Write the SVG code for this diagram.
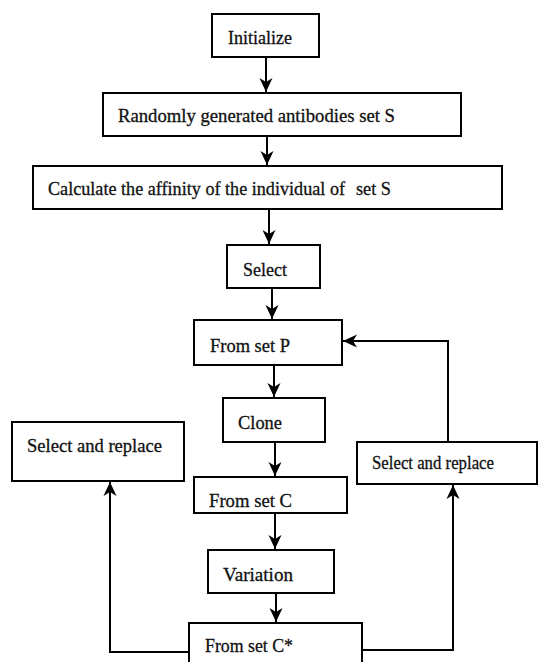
<svg xmlns="http://www.w3.org/2000/svg" width="538" height="662" viewBox="0 0 538 662">
<style>
  .box { fill: #fff; stroke: #000; stroke-width: 2; }
  .t { font-family: "Liberation Serif", "Times New Roman", serif; font-size: 19px; fill: #111; stroke: #111; stroke-width: 0.3; }
  .c { fill: none; stroke: #000; stroke-width: 2; }
</style>
<defs>
  <marker id="ah" markerUnits="userSpaceOnUse" markerWidth="16" markerHeight="14" refX="14" refY="7" orient="auto">
    <path d="M0,0.5 L14,7 L0,13.5 L4,7 z" fill="#000"/>
  </marker>
</defs>
<rect width="538" height="662" fill="#fff"/>

<g id="connectors">
  <line class="c" x1="266" y1="57" x2="266" y2="92" marker-end="url(#ah)"/>
  <line class="c" x1="267" y1="136" x2="267" y2="165" marker-end="url(#ah)"/>
  <line class="c" x1="269" y1="209" x2="269" y2="244" marker-end="url(#ah)"/>
  <line class="c" x1="272" y1="288" x2="272" y2="319" marker-end="url(#ah)"/>
  <line class="c" x1="274" y1="365" x2="274" y2="397" marker-end="url(#ah)"/>
  <line class="c" x1="275" y1="442" x2="275" y2="476" marker-end="url(#ah)"/>
  <line class="c" x1="275" y1="513" x2="275" y2="549" marker-end="url(#ah)"/>
  <line class="c" x1="276" y1="593" x2="276" y2="622" marker-end="url(#ah)"/>
  <polyline class="c" points="189,652 110,652 110,482" marker-end="url(#ah)"/>
  <polyline class="c" points="362,650 453,650 453,485" marker-end="url(#ah)"/>
  <polyline class="c" points="448,442 448,341 343,341" marker-end="url(#ah)"/>
</g>

<g id="initialize">
  <rect class="box" x="212" y="14" width="107" height="43"/>
  <text class="t" x="228" y="44" textLength="64" lengthAdjust="spacingAndGlyphs">Initialize</text>
</g>
<g id="random">
  <rect class="box" x="103" y="93" width="358" height="43"/>
  <text class="t" x="118" y="122" textLength="277" lengthAdjust="spacingAndGlyphs">Randomly generated antibodies set S</text>
</g>
<g id="calculate">
  <rect class="box" x="33" y="166" width="469" height="43"/>
  <text class="t" x="48" y="195" textLength="297" lengthAdjust="spacingAndGlyphs">Calculate the affinity of the individual of</text>
  <text class="t" x="356" y="195" font-size="17" textLength="35" lengthAdjust="spacingAndGlyphs">set S</text>
</g>
<g id="select">
  <rect class="box" x="227" y="245" width="93" height="43"/>
  <text class="t" x="243" y="276" textLength="44" lengthAdjust="spacingAndGlyphs">Select</text>
</g>
<g id="setP">
  <rect class="box" x="194" y="320" width="148" height="45"/>
  <text class="t" x="210" y="352" textLength="80" lengthAdjust="spacingAndGlyphs">From set P</text>
</g>
<g id="clone">
  <rect class="box" x="223" y="398" width="102" height="44"/>
  <text class="t" x="238" y="429" textLength="44" lengthAdjust="spacingAndGlyphs">Clone</text>
</g>
<g id="replaceLeft">
  <rect class="box" x="12" y="422" width="172" height="59"/>
  <text class="t" x="27" y="452" textLength="135" lengthAdjust="spacingAndGlyphs">Select and replace</text>
</g>
<g id="replaceRight">
  <rect class="box" x="357" y="442" width="180" height="42"/>
  <text class="t" x="372" y="469" textLength="122" lengthAdjust="spacingAndGlyphs">Select and replace</text>
</g>
<g id="setC">
  <rect class="box" x="194" y="477" width="153" height="36"/>
  <text class="t" x="209" y="507" textLength="83" lengthAdjust="spacingAndGlyphs">From set C</text>
</g>
<g id="variation">
  <rect class="box" x="208" y="550" width="126" height="43"/>
  <text class="t" x="223" y="581" textLength="70" lengthAdjust="spacingAndGlyphs">Variation</text>
</g>
<g id="setCstar">
  <rect class="box" x="189" y="623" width="173" height="50"/>
  <text class="t" x="205" y="652" textLength="88" lengthAdjust="spacingAndGlyphs">From set C*</text>
</g>
</svg>
